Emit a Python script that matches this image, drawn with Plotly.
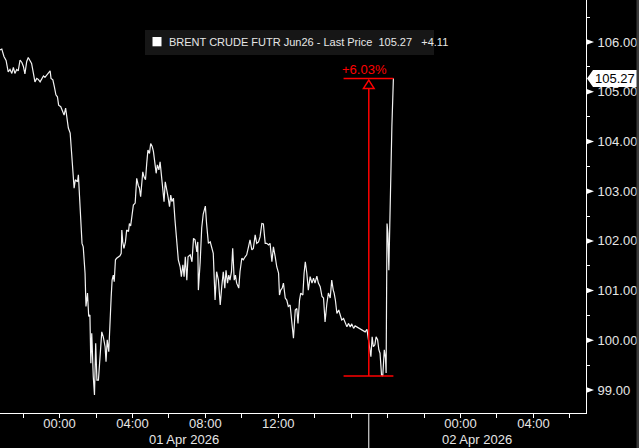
import plotly.graph_objects as go

# ---------------- data ----------------
# minutes from 01 Apr 2026 00:00 on the chart's (session-compressed) time scale
minutes = [
    -196, -190, -183, -176, -169, -163, -157, -152, -147, -141, -136, -130, -124, -119, -114, -108,
    -103, -97, -92, -86, -81, -75, -70, -64, -59, -53, -48, -42, -37, -31, -28, -22, -17, -12, -7, -3,
    4, 11, 15, 20, 24, 29, 35, 38, 43, 48, 52, 59, 62, 65, 68, 71, 74, 78, 84, 87, 92, 96, 100, 103,
    106, 111, 115, 119, 123, 128, 133, 139, 144, 150, 153, 157, 162, 166, 170, 173, 177, 180, 184, 188,
    194, 199, 203, 205, 208, 212, 217, 221, 227, 230, 234, 239, 243, 249, 254, 259, 263, 267, 274, 278,
    283, 287, 291, 296, 300, 305, 309, 314, 318, 322, 327, 331, 335, 340, 344, 348, 353, 357, 362, 366,
    370, 375, 380, 386, 391, 397, 401, 406, 410, 414, 419, 423, 430, 436, 441, 446, 452, 455, 457, 463,
    468, 473, 477, 480, 484, 490, 496, 501, 506, 512, 517, 523, 529, 534, 539, 544, 548, 553, 557, 561,
    566, 570, 575, 579, 583, 590, 594, 600, 605, 611, 616, 622, 627, 633, 638, 644, 649, 655, 660, 666,
    671, 677, 682, 688, 693, 699, 704, 710, 715, 721, 724, 728, 733, 737, 743, 748, 753, 759, 765, 770,
    776, 781, 785, 790, 794, 801, 805, 809, 814, 819, 825, 831, 836, 841, 847, 852, 858, 864, 869, 874,
    880, 885, 891, 896, 901, 904, 908, 913, 919, 924, 929, 935, 940, 946, 951, 957, 962, 968, 973, 979,
    984, 990, 995, 1000, 1006, 1012, 1016, 1020, 1025, 1029, 1033, 1038, 1042, 1047, 1051, 1055, 1060,
    1064, 1069, 1073, 1075, 1078, 1081, 1084, 1088, 1094, 1099,
]
prices = [
    105.84, 105.86, 105.71, 105.63, 105.40, 105.45, 105.37, 105.49, 105.37, 105.45, 105.42, 105.64,
    105.59, 105.51, 105.36, 105.61, 105.69, 105.63, 105.57, 105.37, 105.20, 105.27, 105.25, 105.20,
    105.27, 105.32, 105.29, 105.34, 105.37, 105.42, 105.27, 105.24, 105.10, 104.94, 104.90, 104.73,
    104.70, 104.60, 104.53, 104.67, 104.50, 104.27, 104.17, 103.86, 103.49, 103.06, 103.23, 103.19,
    103.33, 102.96, 102.82, 102.22, 101.95, 101.88, 101.35, 100.68, 100.95, 100.48, 100.51, 99.54,
    100.14, 99.27, 98.90, 99.94, 99.20, 99.20, 99.60, 100.17, 100.07, 99.87, 99.57, 100.01, 99.77,
    100.48, 100.88, 101.21, 101.31, 101.18, 101.62, 101.65, 101.67, 101.70, 101.75, 102.22, 101.98,
    101.85, 101.98, 102.22, 102.19, 102.35, 102.30, 102.59, 102.72, 102.76, 103.26, 103.12, 103.06,
    102.89, 103.39, 103.29, 103.23, 103.56, 103.83, 103.76, 103.96, 103.90, 103.80, 103.56, 103.36,
    103.53, 103.43, 103.59, 103.36, 103.06, 102.79, 103.19, 102.96, 102.89, 102.69, 102.92, 102.79,
    102.86, 102.42, 101.88, 101.62, 101.48, 101.28, 101.52, 101.28, 101.68, 101.21, 101.68, 101.72,
    101.58, 102.05, 102.02, 101.78, 101.98, 101.01, 101.58, 102.26, 102.54, 102.66, 102.70, 102.35,
    101.95, 101.98, 101.88, 101.75, 100.81, 101.38, 101.21, 100.71, 101.08, 101.38, 101.05, 101.41,
    101.15, 101.31, 101.21, 101.38, 101.85, 101.21, 101.31, 101.15, 101.05, 101.38, 101.65, 101.62,
    101.68, 101.72, 101.88, 102.02, 101.82, 101.85, 102.12, 101.95, 101.98, 102.08, 102.35, 102.34,
    101.95, 101.95, 101.92, 101.95, 101.58, 101.88, 101.68, 101.48, 101.35, 100.91, 101.01, 101.05,
    101.15, 100.85, 100.81, 100.68, 100.71, 100.27, 100.04, 100.61, 100.64, 100.34, 100.81, 100.95,
    100.91, 101.35, 101.58, 101.35, 101.01, 101.28, 101.15, 101.25, 101.15, 101.29, 101.15, 101.08,
    100.88, 100.85, 100.37, 100.74, 100.95, 100.85, 101.21, 101.01, 100.95, 100.81, 100.54, 100.61,
    100.48, 100.41, 100.44, 100.37, 100.27, 100.34, 100.27, 100.33, 100.24, 100.29, 100.27, 100.24,
    100.22, 100.22, 100.19, 100.17, 100.22, 100.07, 99.87, 99.67, 100.07, 99.87, 99.91, 100.07,
    100.01, 99.81, 99.74, 99.30, 99.28, 99.81, 99.64, 99.34, 102.35, 102.15, 101.41, 102.82,
    104.30, 105.27,
]

y_tick_values = [99, 100, 101, 102, 103, 104, 105, 106]
y_tick_labels = ["99.00", "100.00", "101.00", "102.00", "103.00", "104.00", "105.00", "106.00"]
y_minor_values = [98.5, 99.5, 100.5, 101.5, 102.5, 103.5, 104.5, 105.5, 106.5]
x_tick_values = [-120, 0, 120, 240, 360, 480, 600, 720, 840, 960, 1080, 1200, 1320, 1440, 1560, 1680]
x_tick_labels = ["", "00:00", "", "04:00", "", "08:00", "", "12:00", "", "", "", "", "00:00", "", "04:00", ""]
day_labels = ["01 Apr 2026", "02 Apr 2026"]
day_break = 1018

series_name = "BRENT CRUDE FUTR Jun26 - Last Price"
last_price = 105.27
net_change = 4.11

meas_start, meas_mid, meas_end = 935, 1018, 1099
meas_low, meas_high = 99.28, 105.27

x_range = [-196, 1733]
y_range = [98.537, 106.847]

# ---------------- layout geometry ----------------
W, H = 639, 448
ML, MR, MT, MB = 0, 53, 0, 35
PW, PH = W - ML - MR, H - MT - MB
ppx = PW / (x_range[1] - x_range[0])     # px per minute
ppy = PH / (y_range[1] - y_range[0])     # px per price unit

def xpaper(v):
    return (v - x_range[0]) / (x_range[1] - x_range[0])

def ypaper(v):
    return (v - y_range[0]) / (y_range[1] - y_range[0])

FONT = "Liberation Sans"
TXT = "#e6e6e6"
RED = "#ff0000"

fig = go.Figure()
fig.add_trace(go.Scatter(x=minutes, y=prices, mode="lines",
                         line=dict(color="#f2f2f2", width=1.2),
                         hoverinfo="skip", showlegend=False))

shapes = []
# red measurement tool
shapes.append(dict(type="line", xref="x", yref="y", x0=meas_start, x1=meas_end,
                   y0=meas_high, y1=meas_high, line=dict(color=RED, width=1.5)))
shapes.append(dict(type="line", xref="x", yref="y", x0=meas_start, x1=meas_end,
                   y0=meas_low, y1=meas_low, line=dict(color=RED, width=1.5)))
ah_top = meas_high - 1.8 / ppy
ah_base = meas_high - 10 / ppy
ah_w = 5.3 / ppx
shapes.append(dict(type="line", xref="x", yref="y", x0=meas_mid, x1=meas_mid,
                   y0=meas_low, y1=ah_base, line=dict(color=RED, width=1.5)))
shapes.append(dict(type="path", xref="x", yref="y",
                   path=f"M {meas_mid - ah_w} {ah_base} L {meas_mid} {ah_top} L {meas_mid + ah_w} {ah_base} Z",
                   fillcolor="black", line=dict(color=RED, width=1.5)))

# y-axis triangle tick markers
for v in y_tick_values:
    yp = ypaper(v)
    shapes.append(dict(type="path", xref="paper", yref="paper",
                       path=f"M 1 {yp + 3/PH} L {1 + 8/PW} {yp} L 1 {yp - 3/PH} Z",
                       fillcolor="white", line=dict(width=0)))

# last price tag
yp = ypaper(last_price)
shapes.append(dict(type="path", xref="paper", yref="paper",
                   path=(f"M {1 + 1/PW} {yp} L {1 + 7/PW} {yp + 8.5/PH} L {1 + 51/PW} {yp + 8.5/PH} "
                         f"L {1 + 51/PW} {yp - 8.5/PH} L {1 + 7/PW} {yp - 8.5/PH} Z"),
                   fillcolor="white", line=dict(width=0)))

# day separator below axis
shapes.append(dict(type="line", xref="paper", yref="paper", x0=xpaper(day_break), x1=xpaper(day_break),
                   y0=0, y1=-MB / PH, line=dict(color="white", width=1)))

# right gray strip
shapes.append(dict(type="rect", xref="paper", yref="paper", x0=(W - 2.5) / PW, x1=W / PW + 0.01,
                   y0=-MB / PH - 0.01, y1=1.01, fillcolor="#3a3a3a", line=dict(width=0)))

# legend box
shapes.append(dict(type="rect", xref="paper", yref="paper", x0=145 / PW, x1=434 / PW,
                   y0=1 - 55 / PH, y1=1 - 30 / PH, fillcolor="#161616", line=dict(width=0)))
shapes.append(dict(type="rect", xref="paper", yref="paper", x0=152.5 / PW, x1=161.5 / PW,
                   y0=1 - 46.3 / PH, y1=1 - 37 / PH, fillcolor="white", line=dict(width=0)))

annotations = []
nb = "\u00a0"
annotations.append(dict(xref="paper", yref="paper", x=167 / PW, y=1 - 42.5 / PH, xanchor="left",
                        yanchor="middle", showarrow=False,
                        text=f"{series_name}{nb*2}{last_price:.2f}{nb*3}{net_change:+.2f}",
                        font=dict(family=FONT, size=11, color=TXT)))
annotations.append(dict(xref="paper", yref="paper", x=1 + 29 / PW, y=yp, xanchor="center",
                        yanchor="middle", showarrow=False, text=f"{last_price:.2f}",
                        font=dict(family=FONT, size=13, color="black")))
pct = (meas_high / meas_low - 1) * 100
annotations.append(dict(xref="x", yref="y", x=meas_mid - 4 / ppx, y=meas_high, yshift=-1,
                        xanchor="center", yanchor="bottom", showarrow=False, text=f"{pct:+.2f}%",
                        font=dict(family=FONT, size=13, color=RED)))
day_mids = [(x_range[0] + day_break) / 2, (day_break + x_range[1]) / 2]
for lab, m in zip(day_labels, day_mids):
    annotations.append(dict(xref="paper", yref="paper", x=xpaper(m), y=-(439.5 - PH) / PH,
                            xanchor="center", yanchor="middle", showarrow=False, text=lab,
                            font=dict(family=FONT, size=13, color=TXT)))

fig.update_layout(
    width=W, height=H, autosize=False,
    margin=dict(l=ML, r=MR, t=MT, b=MB, pad=0),
    paper_bgcolor="black", plot_bgcolor="black",
    showlegend=False,
    shapes=shapes, annotations=annotations,
    xaxis=dict(range=x_range, showgrid=False, zeroline=False,
               showline=True, linecolor="white", linewidth=1,
               tickmode="array", tickvals=x_tick_values, ticktext=x_tick_labels,
               ticks="outside", ticklen=4, tickcolor="white", tickwidth=1,
               ticklabelstandoff=-6,
               tickfont=dict(family=FONT, size=13, color=TXT)),
    yaxis=dict(range=y_range, side="right", showgrid=False, zeroline=False,
               showline=True, linecolor="white", linewidth=1,
               tickmode="array", tickvals=y_tick_values, ticktext=y_tick_labels,
               ticks="outside", ticklen=8, tickcolor="rgba(0,0,0,0)",
               minor=dict(tickmode="array", tickvals=y_minor_values, ticks="outside",
                          ticklen=3, tickcolor="white", tickwidth=1),
               tickfont=dict(family=FONT, size=13, color=TXT)),
)

fig.write_html("out.html", config={"displayModeBar": False},
               post_script="document.body.style.margin='0';")
